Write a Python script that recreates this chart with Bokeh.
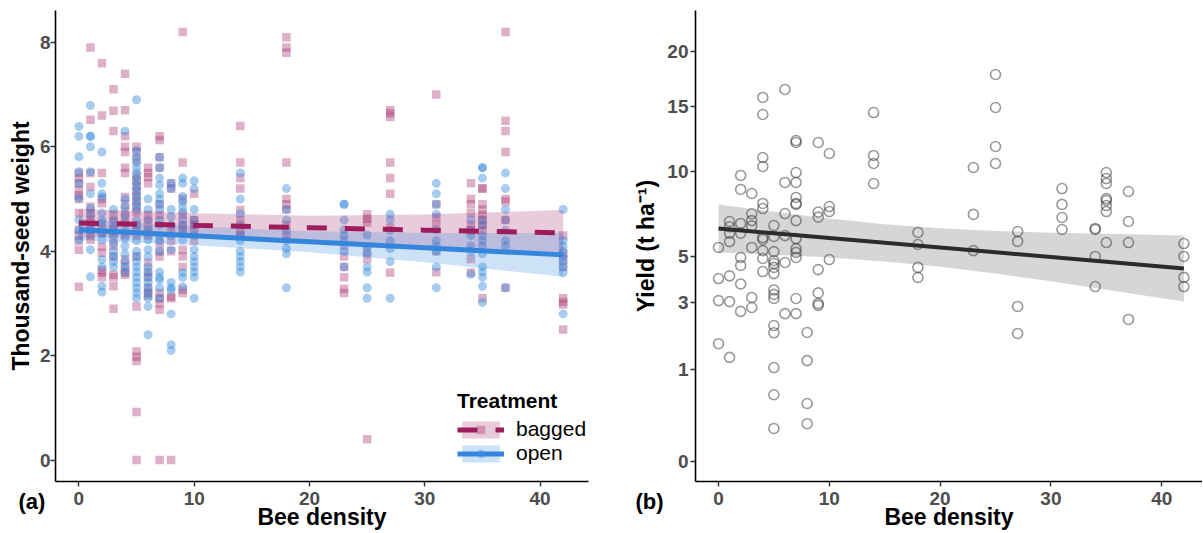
import math
from bokeh.plotting import figure
from bokeh.layouts import row
from bokeh.models import (ColumnDataSource, Range1d, FixedTicker, Label, Legend,
                          LegendItem, CustomJSTickFormatter)
from bokeh.embed import file_html
from bokeh.resources import INLINE

# ---------------- data ----------------
densities = [0, 1, 2, 3, 4, 5, 6, 7, 8, 9, 10, 14, 18, 23, 25, 27, 31, 34, 35, 37, 42]

bagged_tsw = [
    [5.5, 5.4, 5.3, 5.17, 5.07, 5.0, 4.73, 4.41, 4.3, 4.2, 4.03, 3.32],
    [7.9, 6.52, 5.5, 5.23, 4.85, 4.73, 4.6, 4.54, 4.41, 4.3, 4.22],
    [7.6, 6.6, 5.5, 5.0, 4.92, 4.45, 4.35, 4.09, 3.97, 3.64, 3.59, 3.5],
    [7.1, 6.69, 6.3, 4.7, 4.55, 4.4, 4.25, 4.1, 3.9, 3.55, 3.5, 3.33, 2.9],
    [7.4, 6.7, 6.2, 6.0, 5.9, 5.6, 5.5, 5.04, 4.9, 4.75, 4.6, 4.3, 3.84, 3.7, 3.59, 3.55],
    [6.0, 5.9, 5.75, 5.45, 5.35, 5.25, 5.15, 5.05, 4.95, 4.85, 4.75, 4.5, 4.3, 3.9, 2.94,
     2.08, 1.98, 1.9, 0.92, 0.0],
    [5.6, 5.5, 5.42, 5.3, 4.7, 4.55, 4.4, 4.3, 3.78, 3.6, 3.5, 3.3, 3.2, 3.15],
    [6.2, 6.13, 5.8, 5.6, 4.9, 4.7, 4.16, 4.0, 3.9, 3.2, 3.1, 3.0, 2.88, 0.0],
    [5.3, 5.2, 4.45, 4.2, 4.0, 3.13, 3.1, 0.0],
    [8.2, 5.7, 5.0, 4.7, 4.5, 4.4, 4.03, 3.9, 3.7, 3.26, 3.2],
    [5.1, 4.6, 4.5, 4.4, 4.2],
    [6.4, 5.7, 5.4, 5.2, 4.79, 4.6, 4.4, 4.3],
    [8.1, 7.9, 7.8, 5.7, 5.0, 4.9, 4.8, 4.5, 4.3],
    [4.1, 3.9, 3.7, 3.5, 3.28, 3.2],
    [4.71, 4.62, 4.55, 4.0, 3.85, 0.4],
    [6.7, 6.64, 6.57, 5.7, 5.4, 5.1, 4.45, 3.59],
    [7.0, 4.9, 4.65, 4.5, 4.0, 3.6],
    [5.3, 5.0, 4.9, 4.73, 4.5, 4.4, 3.85, 3.59],
    [5.2, 5.2, 4.9, 4.8, 4.7, 4.6, 4.5, 4.4, 3.1],
    [8.2, 6.5, 6.3, 5.9, 5.0, 4.95, 4.6, 3.3],
    [4.3, 3.95, 3.85, 3.7, 3.1, 3.03, 2.98, 2.5],
]

open_tsw = [
    [6.39, 6.2, 5.81, 5.52, 5.3, 5.02, 4.6, 4.4, 4.22],
    [6.79, 6.2, 6.2, 6.0, 5.52, 5.1, 4.82, 4.7, 4.4, 4.03, 3.51],
    [5.9, 5.3, 5.1, 5.04, 4.73, 4.6, 4.54, 4.35, 4.22, 3.84, 3.7, 3.33, 3.22],
    [4.8, 4.6, 4.45, 4.3, 4.15, 4.0, 3.9, 3.8, 3.7],
    [6.3, 5.0, 4.85, 4.7, 4.55, 4.4, 4.25, 4.1, 3.95, 3.8, 3.7, 3.6],
    [6.9, 5.93, 5.8, 5.7, 5.6, 5.5, 5.4, 5.3, 5.2, 5.1, 5.0, 4.9, 4.8, 4.6, 4.5, 4.4, 4.2,
     4.0, 3.9, 3.8, 3.7, 3.6, 3.5, 3.4, 3.3, 3.2, 3.1],
    [5.0, 4.8, 4.6, 4.4, 4.22, 4.03, 3.9, 3.7, 3.6, 3.5, 3.4, 3.3, 3.2, 3.1, 2.94, 2.4],
    [5.8, 5.6, 5.4, 5.27, 5.1, 5.0, 4.9, 4.8, 4.6, 4.5, 4.3, 4.2, 4.0, 3.6, 3.5, 3.45, 3.3, 3.1],
    [5.3, 5.2, 4.8, 4.66, 4.5, 4.3, 4.03, 3.4, 3.3, 3.26, 2.8, 2.21, 2.1],
    [5.4, 5.3, 5.05, 4.95, 4.85, 4.75, 4.6, 4.5, 4.35, 4.22, 3.59, 3.5, 3.32],
    [5.35, 5.2, 4.8, 4.6, 4.5, 4.3, 4.03, 3.9, 3.8, 3.7, 3.6, 3.5, 3.1],
    [5.5, 5.0, 4.72, 4.5, 4.3, 4.2, 4.0, 3.9, 3.8, 3.7, 3.6],
    [5.2, 4.8, 4.6, 4.4, 4.2, 4.05, 3.95, 3.3],
    [4.9, 4.9, 4.6, 4.41, 4.3, 4.2, 4.0, 3.7],
    [4.31, 4.08, 3.95, 3.7, 3.6, 3.3, 3.1],
    [4.71, 4.6, 4.4, 4.2, 4.05, 3.8, 3.1],
    [5.3, 5.1, 4.9, 4.71, 4.41, 4.2, 4.1, 4.0, 3.7, 3.3],
    [4.6, 4.4, 4.3, 4.1, 4.0, 3.56],
    [5.6, 5.6, 5.4, 4.6, 4.5, 4.3, 4.2, 4.1, 3.95, 3.7, 3.6, 3.5, 3.33, 3.02],
    [5.5, 5.2, 4.8, 4.6, 4.4, 4.2, 4.1, 3.3],
    [4.8, 4.2, 4.1, 4.0, 3.9, 3.8, 3.7, 3.59, 2.8],
]

yield_t_ha = [
    [5.45, 3.98, 3.08, 1.65],
    [6.85, 6.55, 6.2, 5.75, 4.1, 3.04, 1.29],
    [9.73, 8.8, 6.74, 6.2, 4.95, 4.57, 3.75, 2.68],
    [8.54, 7.3, 6.9, 6.6, 5.45, 3.2, 2.82],
    [15.76, 14.32, 10.99, 10.35, 7.92, 7.61, 5.97, 5.86, 5.29, 4.9, 4.29],
    [6.62, 6.02, 5.24, 4.8, 4.66, 4.48, 4.2, 3.5, 3.32, 3.16, 2.2, 1.97, 1.05, 0.53, 0.13],
    [16.46, 9.26, 7.31, 6.07, 4.71, 2.6],
    [12.25, 12.1, 9.93, 9.26, 8.29, 7.92, 7.86, 6.9, 5.91, 5.39, 5.2, 4.95, 3.16, 2.6],
    [1.98, 1.21, 0.4, 0.17],
    [12.1, 7.4, 7.1, 4.38, 3.38, 2.97, 2.9],
    [11.28, 7.73, 7.43, 4.85],
    [14.48, 11.14, 10.56, 9.19],
    [6.24, 5.6, 4.48, 4.03],
    [10.28, 7.26, 5.29],
    [17.81, 14.9, 11.8, 10.56],
    [6.29, 5.76, 2.86, 1.95],
    [8.86, 7.86, 7.08, 6.4],
    [6.46, 6.4, 5.0, 3.64],
    [9.93, 9.52, 9.19, 8.22, 8.1, 7.79, 7.43, 5.7],
    [8.67, 6.85, 5.7, 2.4],
    [5.65, 5.0, 4.03, 3.64],
]

# fitted lines and confidence bands
fit_x = [0, 10, 20, 30, 42]
bagged_fit = [4.54, 4.495, 4.45, 4.404, 4.35]
bagged_lo = [4.27, 4.265, 4.22, 4.104, 3.91]
bagged_hi = [4.81, 4.725, 4.68, 4.704, 4.79]
open_fit = [4.41, 4.296, 4.181, 4.067, 3.93]
open_lo = [4.21, 4.116, 3.981, 3.787, 3.51]
open_hi = [4.61, 4.476, 4.381, 4.347, 4.35]

yield_fit_x = [0, 5, 10, 15, 20, 25, 30, 35, 42]
yield_fit_sqrt = [2.541, 2.489, 2.437, 2.385, 2.333, 2.282, 2.230, 2.178, 2.105]
yield_lo_sqrt = [2.279, 2.255, 2.224, 2.182, 2.123, 2.050, 1.965, 1.873, 1.745]
yield_hi_sqrt = [2.803, 2.723, 2.650, 2.588, 2.543, 2.514, 2.495, 2.483, 2.465]

x_ticks = [0, 10, 20, 30, 40]
tsw_ticks = [0, 2, 4, 6, 8]
yield_ticks = [0, 1, 3, 5, 10, 15, 20]

# ---------------- styling ----------------
FONT = "Liberation Sans"
BAG_PT, BAG_LINE = "#A8326E", "#9C1C5C"
OPEN_PT, OPEN_LINE = "#3C8DDE", "#3386DB"
H = 531


def make_fig(width, xr, yr, xb, yb, xlabel, ylabel):
    """Frame fills the whole figure; the axes sit at fixed data locations."""
    p = figure(width=width, height=H, x_range=Range1d(*xr), y_range=Range1d(*yr),
               output_backend="svg", toolbar_location=None,
               min_border=0, min_border_left=0, min_border_right=0,
               min_border_top=0, min_border_bottom=0)
    p.outline_line_color = None
    p.grid.visible = False
    xa, ya = p.xaxis[0], p.yaxis[0]
    xa.fixed_location = yb[0]
    xa.bounds = xb
    ya.fixed_location = xb[0]
    ya.bounds = yb
    for ax in (xa, ya):
        ax.axis_line_color = "black"
        ax.axis_line_width = 1.6
        ax.major_tick_line_color = "#333333"
        ax.major_tick_line_width = 1.4
        ax.major_tick_out = 5
        ax.major_tick_in = 0
        ax.minor_tick_out = 0
        ax.minor_tick_in = 0
        ax.major_label_text_font = FONT
        ax.major_label_text_font_style = "bold"
        ax.major_label_text_font_size = "19px"
        ax.major_label_text_color = "#4D4D4D"
        ax.axis_label_text_font = FONT
        ax.axis_label_text_font_style = "bold"
        ax.axis_label_text_font_size = "23px"
        ax.axis_label_text_color = "black"
    xa.axis_label = xlabel
    ya.axis_label = ylabel
    xa.ticker = FixedTicker(ticks=x_ticks)
    xa.major_label_standoff = 5
    xa.axis_label_standoff = -4
    return p


def style_legend(lg):
    lg.background_fill_alpha = 0
    lg.border_line_color = None
    lg.padding = 0
    lg.margin = 0
    lg.spacing = 0
    lg.glyph_width = 47
    lg.glyph_height = 21
    lg.label_height = 21
    lg.label_standoff = 12
    lg.label_text_font = FONT
    lg.label_text_font_size = "21px"
    lg.label_text_color = "black"
    lg.title_text_font = FONT
    lg.title_text_font_size = "21px"
    lg.title_text_font_style = "bold"
    lg.title_text_color = "black"
    lg.title_standoff = 4


# ---------------- panel (a) ----------------
p1 = make_fig(600, (-6.80, 45.24), (-1.3675, 8.8015), (-2.03, 44.2), (-0.41, 8.61),
              "Bee density", "Thousand-seed weight")
p1.yaxis[0].ticker = FixedTicker(ticks=tsw_ticks)
p1.yaxis[0].major_label_standoff = 0
p1.yaxis[0].axis_label_standoff = 3

bsrc = ColumnDataSource(dict(x=[d for d, vs in zip(densities, bagged_tsw) for v in vs],
                             y=[v for vs in bagged_tsw for v in vs]))
osrc = ColumnDataSource(dict(x=[d for d, vs in zip(densities, open_tsw) for v in vs],
                             y=[v for vs in open_tsw for v in vs]))

bag_pts = p1.scatter("x", "y", source=bsrc, marker="square", size=8.5,
                     fill_color=BAG_PT, fill_alpha=0.38, line_color=None)
open_pts = p1.scatter("x", "y", source=osrc, marker="circle", size=9,
                      fill_color=OPEN_PT, fill_alpha=0.45, line_color=None)
bag_band = p1.varea(x=fit_x, y1=bagged_lo, y2=bagged_hi, fill_color=BAG_PT, fill_alpha=0.25)
open_band = p1.varea(x=fit_x, y1=open_lo, y2=open_hi, fill_color=OPEN_PT, fill_alpha=0.25)
bag_line = p1.line(fit_x, bagged_fit, line_color=BAG_LINE, line_width=5, line_dash="20 18")
open_line = p1.line(fit_x, open_fit, line_color=OPEN_LINE, line_width=5)

# legend split in two so the two keys can sit close together
legend_a = Legend(items=[LegendItem(label="bagged", renderers=[bag_band, bag_line, bag_pts])],
                  location=(457, 90), title="Treatment")
legend_b = Legend(items=[LegendItem(label="open", renderers=[open_band, open_line, open_pts])],
                  location=(457, 66))
style_legend(legend_a)
style_legend(legend_b)
p1.add_layout(legend_a)
p1.add_layout(legend_b)

p1.add_layout(Label(x=-5.24, y=-0.80, text="(a)", text_font=FONT, text_font_style="bold",
                    text_font_size="22px", text_color="black", text_baseline="alphabetic"))

# ---------------- panel (b) ----------------
p2 = make_fig(602, (-10.65, 43.68), (-0.763, 5.027), (-2.076, 43.68), (-0.218, 4.918),
              "Bee density", "Yield (t ha\u207b\u00b9)")
p2.yaxis[0].ticker = FixedTicker(ticks=[math.sqrt(t) for t in yield_ticks])
p2.yaxis[0].formatter = CustomJSTickFormatter(code="return Math.round(tick*tick).toString()")
p2.yaxis[0].major_label_standoff = 2
p2.yaxis[0].axis_label_standoff = 5

ysrc = ColumnDataSource(dict(x=[d for d, vs in zip(densities, yield_t_ha) for v in vs],
                             y=[math.sqrt(v) for vs in yield_t_ha for v in vs]))
p2.varea(x=yield_fit_x, y1=yield_lo_sqrt, y2=yield_hi_sqrt, fill_color="#999999", fill_alpha=0.4)
p2.line(yield_fit_x, yield_fit_sqrt, line_color="#2B2B2B", line_width=4)
p2.scatter("x", "y", source=ysrc, marker="circle", size=10, fill_color=None,
           line_color="#333333", line_alpha=0.5, line_width=1.6)

p2.add_layout(Label(x=-7.49, y=-0.44, text="(b)", text_font=FONT, text_font_style="bold",
                    text_font_size="22px", text_color="black", text_baseline="alphabetic"))

layout = row(p1, p2)
open("out.html", "w").write(file_html(layout, INLINE))
